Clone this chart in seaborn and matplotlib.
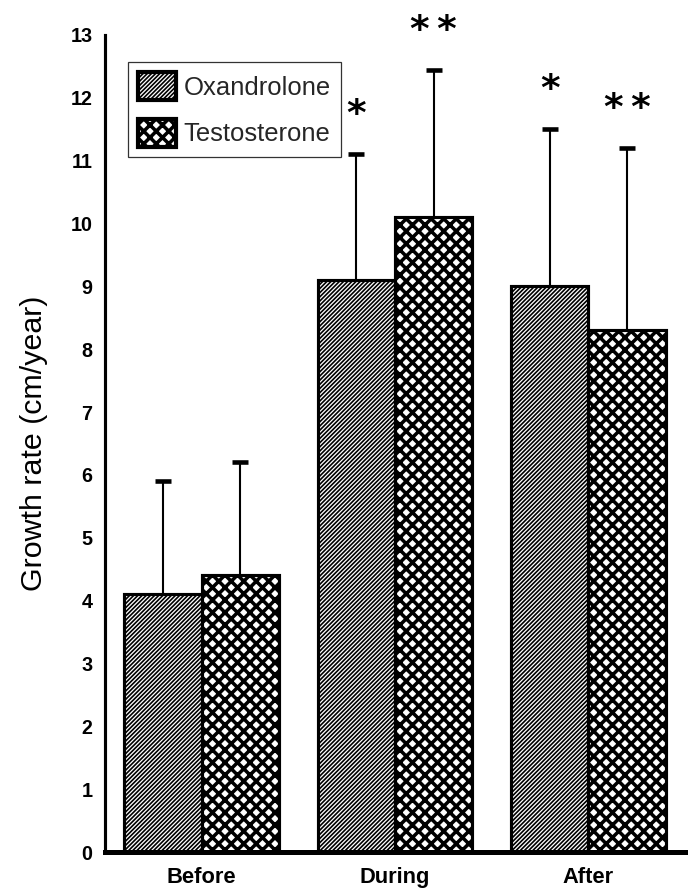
import numpy as np
import pandas as pd
import matplotlib
matplotlib.use("Agg")
import matplotlib.pyplot as plt
from matplotlib.patches import Patch
import seaborn as sns

# Growth rate (cm/year), mean and SD, by treatment period
periods = ["Before", "During", "After"]
treatments = ["Oxandrolone", "Testosterone"]
oxandrolone_mean = [4.1, 9.1, 9.0]
oxandrolone_sd = [1.8, 2.0, 2.5]
testosterone_mean = [4.4, 10.1, 8.3]
testosterone_sd = [1.8, 2.35, 2.9]
oxandrolone_sig = ["", "*", "*"]
testosterone_sig = ["", "*\u2009*", "*\u2009*"]
y_ticks = list(range(0, 14))

sns.set_theme(style="white")
plt.rcParams["font.family"] = ["Liberation Sans", "DejaVu Sans"]

df = pd.DataFrame({
    "period": periods * 2,
    "treatment": [treatments[0]] * 3 + [treatments[1]] * 3,
    "rate": oxandrolone_mean + testosterone_mean,
})

DPI = 150
fig = plt.figure(figsize=(689 / DPI, 892 / DPI), dpi=DPI)
ax = fig.add_axes([105 / 689, 40 / 892, 580 / 689, 817 / 892])

sns.barplot(data=df, x="period", y="rate", hue="treatment", order=periods,
            hue_order=treatments, palette=["white", "white"], edgecolor="black",
            linewidth=1.5, errorbar=None, width=0.8, legend=False, ax=ax)

hatches = ["////////////", "xxxx"]
hatch_lw = [0.8, 1.7]
means = [oxandrolone_mean, testosterone_mean]
sds = [oxandrolone_sd, testosterone_sd]
sigs = [oxandrolone_sig, testosterone_sig]

for cont, hatch, hlw, m, sd, sig in zip(ax.containers, hatches, hatch_lw, means, sds, sigs):
    xs = []
    for bar in cont:
        bar.set_hatch(hatch)
        if hasattr(bar, "set_hatch_linewidth"):
            bar.set_hatch_linewidth(hlw)
        xs.append(bar.get_x() + bar.get_width() / 2)
    _, caps, _ = ax.errorbar(xs, m, yerr=[np.zeros(len(sd)), sd], fmt="none",
                             ecolor="black", elinewidth=1.0, capsize=3.8,
                             capthick=2.2, zorder=3)
    caps[0].set_visible(False)
    for x, top, s in zip(xs, np.add(m, sd), sig):
        if s:
            ax.text(x, top + 0.62, s, ha="center", va="center", fontsize=18,
                    fontweight="bold", family="DejaVu Sans", color="black")

ax.set_xlim(-0.5, 2.5)
ax.set_ylim(0, 13)
ax.set_yticks(y_ticks)
ax.set_yticklabels([str(t) for t in y_ticks], fontsize=9.5, fontweight="bold")
ax.set_xticks(range(len(periods)))
ax.set_xticklabels(periods, fontsize=10.5, fontweight="bold")
ax.tick_params(axis="y", direction="in", length=2.6, width=2.0, pad=6, colors="black")
ax.tick_params(axis="x", length=0, pad=7, colors="black")
ax.set_xlabel("")
ax.set_ylabel("Growth rate (cm/year)", fontsize=14.6, color="black")
ax.yaxis.set_label_coords(-0.098, 0.5)

for side in ["top", "right"]:
    ax.spines[side].set_visible(False)
ax.spines["left"].set_linewidth(1.5)
ax.spines["bottom"].set_linewidth(2.4)
ax.spines["left"].set_color("black")
ax.spines["bottom"].set_color("black")

handles = [Patch(facecolor="white", edgecolor="black", hatch=h, linewidth=2.0)
           for h in hatches]
leg = ax.legend(handles, treatments, loc="upper left",
                bbox_to_anchor=(0.04, 0.967), borderaxespad=0, fontsize=12.3,
                frameon=True, fancybox=False, edgecolor="black",
                handlelength=1.45, handleheight=1.3, handletextpad=0.3,
                labelspacing=0.72, borderpad=0.4)
leg.get_frame().set_linewidth(0.6)
for p, hlw in zip(leg.get_patches(), hatch_lw):
    if hasattr(p, "set_hatch_linewidth"):
        p.set_hatch_linewidth(hlw)

fig.savefig("out.png", dpi=DPI)
